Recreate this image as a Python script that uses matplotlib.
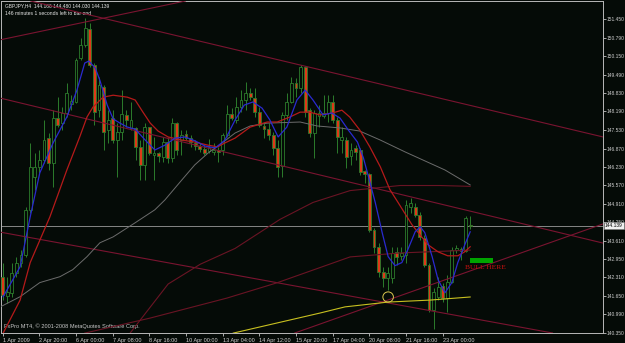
import matplotlib
matplotlib.use("Agg")
import matplotlib.pyplot as plt
from matplotlib.patches import Rectangle, Ellipse

# ---------------- text ----------------
header_text = "GBPJPY,H4  144.166 144.480 144.030 144.139"
timer_text = "146 minutes 1 seconds left to bar end"
copyright_text = "FxPro MT4, \u00a9 2001-2008 MetaQuotes Software Corp."
note_text = "BULL HERE"

# ---------------- candles (H4) ----------------
opens = [142.33, 141.66, 141.76, 142.47, 142.83, 143.11, 144.70, 145.87, 146.22, 146.47,
         147.24, 146.36, 147.95, 147.77, 148.13, 148.45, 148.52, 150.07, 150.53, 151.10,
         149.82, 148.23, 149.05, 147.53, 147.95, 147.17, 147.46, 148.06, 147.60, 147.60,
         146.93, 146.29, 147.63, 146.64, 146.71, 146.57, 147.10, 146.54, 147.77, 147.17,
         147.39, 147.24, 147.07, 146.96, 146.86, 146.78, 146.75, 146.82, 146.82, 147.35,
         148.09, 147.88, 148.34, 148.59, 148.83, 148.66, 148.16, 147.67, 147.56, 147.35,
         146.89, 146.25, 148.06, 148.52, 149.19, 149.01, 149.75, 148.23, 147.42, 148.02,
         148.02, 148.13, 148.52, 147.88, 147.17, 147.17, 146.61, 146.89, 146.82, 146.08,
         145.97, 143.99, 143.39, 142.51, 142.30, 142.30, 143.21, 143.07, 143.11, 144.81,
         144.81, 144.52, 143.71, 142.76, 141.16, 141.62, 142.01, 141.59, 142.15, 143.29,
         143.32, 143.25, 144.166]
highs = [142.83, 142.33, 142.83, 143.04, 143.29, 144.81, 147.07, 146.71, 146.82, 147.88,
         147.42, 148.23, 148.69, 148.34, 149.19, 148.76, 150.07, 150.78, 151.49, 151.31,
         149.90, 149.40, 149.12, 148.23, 148.23, 147.77, 148.94, 148.23, 148.52, 147.63,
         147.17, 147.77, 147.63, 147.28, 146.75, 147.28, 147.28, 147.95, 147.81, 147.53,
         147.53, 147.35, 147.17, 147.07, 147.00, 147.21, 147.07, 146.93, 147.42, 148.41,
         148.30, 148.69, 148.94, 149.22, 149.01, 149.01, 148.34, 147.81, 147.77, 147.46,
         147.17, 148.16, 148.83, 149.40, 149.36, 149.82, 149.79, 148.30, 148.23, 148.41,
         148.76, 148.76, 148.76, 147.99, 147.63, 147.28, 147.07, 147.00, 146.89, 146.11,
         146.01, 144.06, 143.53, 142.68, 142.68, 143.39, 143.39, 143.39, 145.05, 145.12,
         144.95, 144.63, 143.82, 142.83, 141.94, 142.33, 142.12, 142.40, 143.39, 143.46,
         143.39, 144.49, 144.480]
lows = [141.52, 141.41, 141.62, 142.33, 142.68, 143.04, 144.59, 145.41, 146.01, 146.36,
        146.11, 145.51, 147.63, 147.53, 147.99, 148.23, 148.48, 150.00, 150.46, 149.75,
        147.70, 147.99, 146.82, 147.07, 147.07, 145.87, 147.17, 147.63, 147.53, 146.47,
        145.76, 145.76, 146.64, 145.76, 146.40, 146.40, 146.36, 146.40, 146.64, 146.64,
        147.17, 146.93, 146.82, 146.75, 146.64, 146.71, 146.64, 146.40, 146.64, 147.28,
        147.88, 147.77, 148.16, 148.23, 148.59, 147.99, 147.63, 147.24, 147.17, 146.64,
        145.87, 145.87, 147.88, 148.48, 148.69, 148.83, 147.99, 147.28, 146.54, 147.63,
        147.95, 147.81, 147.77, 146.71, 146.71, 146.18, 146.29, 146.47, 145.94, 145.65,
        143.92, 143.18, 142.33, 141.98, 141.87, 142.12, 142.76, 142.93, 142.83, 144.59,
        144.45, 143.64, 142.68, 141.09, 140.47, 141.52, 141.45, 141.09, 142.12, 143.18,
        142.93, 143.21, 144.030]
closes = [141.69, 141.80, 142.47, 142.83, 143.11, 144.70, 146.22, 146.22, 146.47, 147.17,
          146.36, 147.95, 147.70, 148.13, 148.83, 148.55, 150.00, 150.53, 151.13, 149.82,
          148.16, 149.12, 147.46, 147.88, 147.17, 147.46, 148.09, 147.88, 147.88, 146.93,
          146.29, 147.63, 146.71, 146.71, 146.61, 147.10, 146.54, 147.77, 146.82, 147.35,
          147.24, 147.10, 146.96, 146.86, 146.71, 146.93, 146.82, 146.75, 147.35, 148.09,
          147.95, 148.34, 148.59, 148.83, 148.69, 148.16, 147.70, 147.56, 147.35, 146.89,
          146.22, 148.06, 148.52, 149.19, 149.01, 149.75, 148.16, 147.42, 148.13, 148.13,
          148.13, 148.52, 147.88, 147.28, 147.28, 146.57, 146.82, 146.75, 146.04, 145.97,
          143.99, 143.39, 142.51, 142.30, 142.47, 143.18, 143.04, 143.18, 144.88, 144.95,
          144.52, 143.74, 142.76, 141.16, 141.80, 141.98, 141.59, 142.15, 143.29, 143.36,
          143.25, 144.42, 144.139]

# ---------------- axes labels ----------------
time_tick_bars = [0, 8, 16, 24, 32, 40, 48, 56, 64, 72, 80, 88, 96]
time_tick_labels = ["1 Apr 2009", "2 Apr 20:00", "6 Apr 00:00", "7 Apr 08:00",
                    "8 Apr 16:00", "10 Apr 00:00", "13 Apr 04:00", "14 Apr 12:00",
                    "15 Apr 20:00", "17 Apr 04:00", "20 Apr 08:00", "21 Apr 16:00",
                    "23 Apr 00:00"]
price_ticks = [151.450, 150.790, 150.150, 149.490, 148.830, 148.190, 147.530, 146.870,
               146.230, 145.570, 144.910, 144.250, 143.610, 142.950, 142.310, 141.650,
               140.990, 140.350]
last_price = 144.139

# ---------------- indicator lines (bar position, price) ----------------
blue_x = [0.1, 3.8, 6.0, 8.1, 11.0, 14.0, 16.2, 17.9, 18.8, 20.2, 21.2, 22.8, 24.1, 25.6,
          27.2, 28.9, 31.1, 33.2, 35.4, 37.6, 39.8, 42.0, 44.1, 46.4, 48.5, 50.7, 52.7,
          54.6, 56.6, 58.3, 60.1, 62.0, 64.2, 66.0, 67.7, 69.9, 71.8, 73.6, 75.4, 77.4,
          78.7, 79.7, 81.3, 82.8, 84.1, 85.6, 87.1, 88.4, 90.0, 91.1, 92.1, 93.7, 95.0,
          96.5, 98.0, 99.3, 101.0, 102.0]
blue_y = [141.62, 142.68, 144.45, 146.01, 147.07, 147.99, 148.94, 149.90, 149.97, 149.72,
          149.29, 148.41, 147.92, 147.77, 147.63, 147.56, 147.17, 146.82, 146.99, 147.24,
          147.28, 147.14, 146.96, 146.89, 147.17, 147.88, 148.41, 148.52, 148.30, 147.88,
          147.28, 147.63, 148.59, 148.94, 148.59, 148.06, 148.13, 147.95, 147.53, 147.10,
          146.54, 145.94, 144.95, 143.89, 143.04, 142.72, 142.83, 143.29, 143.92, 144.10,
          143.89, 143.04, 142.22, 141.76, 142.12, 142.83, 143.53, 143.92]

red_x = [0.1, 3.8, 6.0, 10.3, 14.0, 16.8, 18.4, 19.7, 21.9, 24.1, 27.2, 28.9, 30.6, 32.2,
         33.9, 36.1, 39.1, 41.9, 44.8, 46.9, 48.5, 50.7, 54.0, 57.7, 59.9, 62.7, 64.9,
         67.0, 69.2, 72.0, 74.0, 75.7, 77.9, 80.1, 82.4, 84.5, 86.3, 89.3, 92.8, 95.0,
         97.1, 99.3, 100.8, 102.0]
red_y = [140.33, 141.50, 142.83, 144.45, 146.11, 147.28, 147.99, 148.34, 148.69, 148.76,
         148.69, 148.59, 148.16, 147.77, 147.49, 147.28, 147.17, 147.10, 146.99, 146.93,
         147.07, 147.24, 147.63, 147.81, 147.81, 147.99, 148.16, 148.16, 148.06, 148.13,
         148.23, 147.99, 147.53, 146.93, 146.22, 145.41, 144.95, 144.17, 143.46, 143.21,
         143.07, 143.07, 143.21, 143.39]

gray_x = [-0.4, 3.8, 8.1, 12.5, 15.3, 18.4, 21.2, 24.1, 28.9, 33.2, 35.4, 39.1, 41.9,
          44.8, 47.9, 50.7, 54.0, 57.7, 64.9, 68.6, 73.6, 77.9, 82.4, 87.8, 96.5, 102.0]
gray_y = [141.27, 141.62, 142.12, 142.33, 142.58, 143.04, 143.53, 143.74, 144.24, 144.70,
          145.05, 145.76, 146.29, 146.71, 147.07, 147.42, 147.67, 147.77, 147.81, 147.67,
          147.60, 147.49, 147.17, 146.75, 146.11, 145.58]

slow1_x = [27.8, 36.1, 43.1, 50.7, 60.5, 67.7, 75.8, 86.7, 95.4, 102.0]
slow1_y = [140.33, 142.07, 142.77, 143.33, 144.36, 144.96, 145.38, 145.56, 145.56, 145.53]

slow2_x = [17.9, 32.1, 48.9, 59.8, 75.8, 86.7, 102.0]
slow2_y = [140.33, 140.86, 141.57, 142.11, 143.03, 143.17, 143.27]

yellow_x = [50.3, 69.2, 74.7, 84.1, 93.2, 102.0]
yellow_y = [140.33, 141.04, 141.26, 141.43, 141.50, 141.61]

# trend lines: two anchor points each (bar, price)
trend_lines = [
    ((64.9, 149.83), (131.0, 147.28)),
    ((-0.6, 148.66), (131.0, 143.52)),
    ((-0.6, 143.91), (120.1, 140.33)),
    ((-0.6, 150.72), (22.3, 151.50)),
    ((82.8, 141.43), (131.0, 144.20)),
]

ellipse_center = (84.1, 141.61)
rect_bars = (102.0, 107.0)
rect_prices = (142.81, 142.99)
note_pos = (105.3, 142.64)

# ---------------- style ----------------
BG = "#050b07"
TICK_FG = "#c4c4c4"
WICK = "#2c7c2c"
BEAR = "#de3a18"
BLUE = "#2a2ad0"
RED = "#b51a1a"
GRAY = "#6c6c6c"
MAROON = "#7a1430"
SLOW = "#6a1424"
YELLOW = "#c8c020"

fam = ["Liberation Sans", "DejaVu Sans"]

fig = plt.figure(figsize=(6.25, 3.43), dpi=100)
fig.patch.set_facecolor(BG)
ax = fig.add_axes([1 / 625, 10 / 343, 602 / 625, 332 / 343])
ax.set_facecolor(BG)
ax.set_xlim(-0.37, 130.98)
ax.set_ylim(140.334, 152.098)

# candles
w = 0.62
for i, (o, h, l, c) in enumerate(zip(opens, highs, lows, closes)):
    ax.vlines(i, l, h, color=WICK, lw=0.7, zorder=2)
    lo, hi = min(o, c), max(o, c)
    hgt = max(hi - lo, 0.02)
    fc = BEAR if c < o else BG
    ax.add_patch(Rectangle((i - w / 2, lo), w, hgt, facecolor=fc, edgecolor=WICK,
                           lw=0.6, zorder=3))

# trend lines
for p1, p2 in trend_lines:
    ax.axline(p1, p2, color=MAROON, lw=0.8, zorder=4)

# moving averages
ax.plot(slow2_x, slow2_y, color=SLOW, lw=0.8, zorder=4)
ax.plot(slow1_x, slow1_y, color=SLOW, lw=0.8, zorder=4)
ax.plot(gray_x, gray_y, color=GRAY, lw=0.7, zorder=4)
ax.plot(yellow_x, yellow_y, color=YELLOW, lw=0.8, zorder=4)
ax.plot(red_x, red_y, color=RED, lw=0.9, zorder=5)
ax.plot(blue_x, blue_y, color=BLUE, lw=0.9, zorder=6)

# current price line
ax.axhline(last_price, color="#9a9a9a", lw=0.6, zorder=1)

# objects
ax.add_patch(Ellipse(ellipse_center, 2.3, 0.36, angle=0, fill=False,
                     edgecolor="#dcc850", lw=0.7, zorder=7))
ax.add_patch(Rectangle((rect_bars[0], rect_prices[0]), rect_bars[1] - rect_bars[0],
                       rect_prices[1] - rect_prices[0], facecolor="#00a400",
                       edgecolor="none", zorder=7))
ax.text(note_pos[0], note_pos[1], note_text, color="#c81010", fontsize=5.4,
        family=["Liberation Serif", "DejaVu Serif"], ha="center", va="center", zorder=7)

# texts
ax.text(0.006, 0.993, header_text, transform=ax.transAxes, color="#e6e6e6",
        fontsize=3.5, family=fam, ha="left", va="top")
ax.text(0.007, 0.970, timer_text, transform=ax.transAxes, color="#e6e6e6",
        fontsize=3.7, family=fam, ha="left", va="top")
ax.text(0.005, 0.012, copyright_text, transform=ax.transAxes, color="#c8c8c8",
        fontsize=4.1, family=fam, ha="left", va="bottom")

# axes styling
for s in ax.spines.values():
    s.set_color("#b8b8b8")
    s.set_linewidth(0.7)
ax.yaxis.tick_right()
ax.set_yticks(price_ticks)
ax.set_yticklabels(["%.3f" % v for v in price_ticks])
ax.set_xticks(time_tick_bars)
ax.set_xticklabels(time_tick_labels)
ax.tick_params(axis="x", colors=TICK_FG, labelcolor="#d0d0d0", length=2.2,
               width=0.6, labelsize=4.0, pad=1.2)
ax.tick_params(axis="y", colors=TICK_FG, labelcolor="#d0d0d0", length=2.0,
               width=0.6, labelsize=3.5, pad=0.8)
for lab in ax.get_xticklabels():
    lab.set_horizontalalignment("left")
    lab.set_family(fam)
for lab in ax.get_yticklabels():
    lab.set_family(fam)

# current price label on the price scale
ax.text(1.0035, last_price, "%.3f" % last_price, transform=ax.get_yaxis_transform(),
        color="black", fontsize=3.5, family=fam, ha="left", va="center", zorder=10,
        bbox=dict(boxstyle="square,pad=0.2", facecolor="#f0f0f0", edgecolor="#808080",
                  lw=0.4), clip_on=False)

fig.savefig("out.png", dpi=100, facecolor=BG)
